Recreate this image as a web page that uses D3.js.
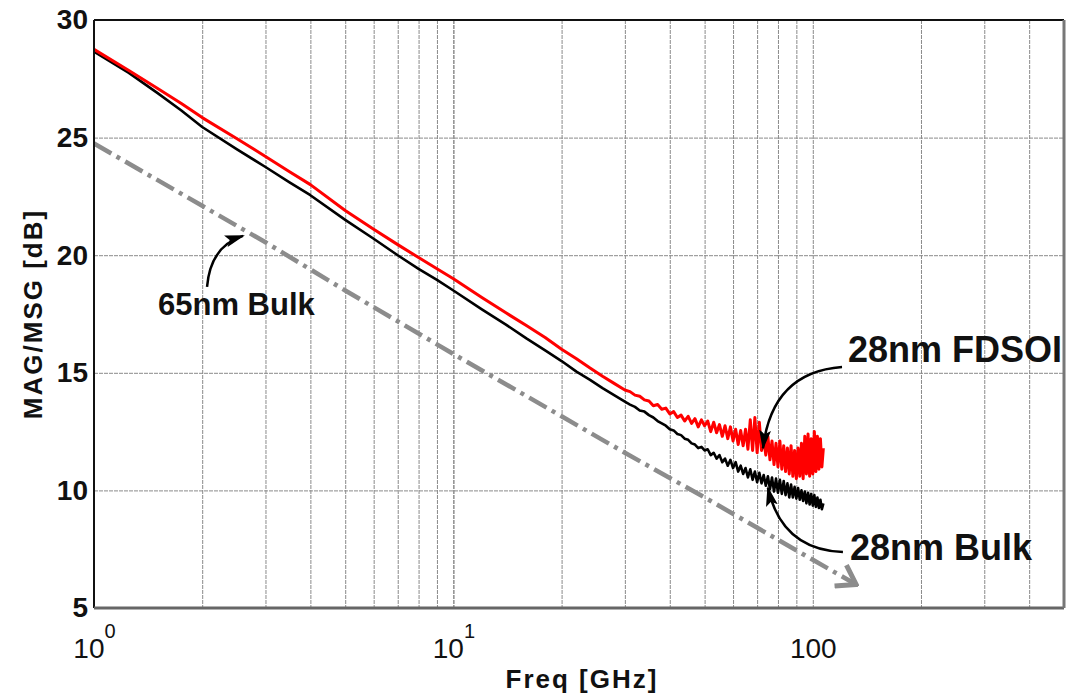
<!DOCTYPE html>
<html lang="en">
<head>
<meta charset="UTF-8">
<title>MAG/MSG vs Freq</title>
<script src="https://d3js.org/d3.v7.min.js"></script>
<style>
  body { margin: 0; background: #fff; font-family: "Liberation Sans", Arial, Helvetica, sans-serif; }
  .grid line { stroke: #8a8a8a; stroke-width: 1; stroke-dasharray: 4,1; }
  .grid line.major { stroke: #555; }
  .grid path { display: none; }
  .axis path, .axis line { display: none; }
  .ytick text { font-size: 28px; font-weight: bold; fill: #111; }
  .xtick text { font-size: 28px; fill: #111; }
  .axis-title { font-size: 26px; font-weight: bold; fill: #111; letter-spacing: 2px; }
  .note { font-weight: bold; fill: #111; }
  .note-arrow { fill: none; stroke: #000; stroke-width: 2.5; }
</style>
</head>
<body>
<svg id="chart" width="1068" height="699"></svg>
<script>
// ---- data ----
const yTicks = [5, 10, 15, 20, 25, 30];
const xTickVals = [1, 10, 100];
const xTickBase = ["10", "10", "100"];
const xTickExp = ["0", "1", ""];
const gridFreqs = [2, 3, 4, 5, 6, 7, 8, 9, 10, 20, 30, 40, 50, 60, 70, 80, 90, 100, 200, 300, 400];

// 28nm FDSOI (red)
const fdsoiFreq = [1, 1.25, 1.5, 1.75, 2, 2.5, 3, 3.5, 4, 5, 6, 7, 8, 9, 10, 12, 14, 16, 18, 20, 22, 24, 26, 28, 30,
  31, 32, 33, 34, 35, 36, 37, 38, 39, 40, 41, 42, 43, 44, 45, 46, 47, 48, 49, 50,
  51, 52, 53, 54, 55, 56, 57, 58, 59, 60, 61, 62, 63, 64, 65, 66, 67, 68, 69, 70,
  71, 72, 73, 74, 75, 76, 77, 78, 79, 80, 81, 82, 83, 84, 85, 86, 87, 88, 89, 90,
  91, 92, 93, 94, 95, 96, 97, 98, 99, 100, 101, 102, 103, 104, 105, 106, 107];
const fdsoiMag = [28.75, 27.85, 27.1, 26.45, 25.85, 24.95, 24.2, 23.55, 23.0, 21.9, 21.1, 20.45, 19.9, 19.42, 19.0,
  18.2, 17.55, 17.0, 16.5, 16.0, 15.6, 15.2, 14.85, 14.55, 14.27,
  14.2, 14.05, 14.0, 13.85, 13.8, 13.6, 13.65, 13.45, 13.5, 13.25, 13.35, 13.1, 13.2, 12.95, 13.15, 12.85, 13.05, 12.7, 13.0, 12.75,
  12.95, 12.5, 12.9, 12.45, 12.8, 12.3, 12.75, 12.2, 12.7, 12.1, 12.6, 11.95, 12.55, 11.9, 12.6, 11.75, 13.0, 11.7, 13.1, 11.6,
  12.9, 11.7, 12.2, 11.5, 12.3, 11.3, 12.1, 11.1, 12.0, 11.0, 12.1, 10.9, 11.9, 10.8, 11.8, 10.7, 11.9, 10.6, 11.7, 10.5,
  11.8, 10.6, 12.0, 10.5, 12.3, 10.7, 12.4, 10.6, 12.2, 10.7, 12.5, 10.8, 12.3, 10.9, 12.2, 11.0, 11.8];

// 28nm Bulk (black)
const bulk28Freq = fdsoiFreq;
const bulk28Mag = [28.65, 27.75, 26.9, 26.15, 25.45, 24.5, 23.75, 23.1, 22.55, 21.5, 20.7, 20.0, 19.42, 18.95, 18.5,
  17.7, 17.05, 16.45, 15.95, 15.5, 15.05, 14.7, 14.35, 14.05, 13.77,
  13.65, 13.55, 13.4, 13.35, 13.2, 13.1, 12.95, 12.85, 12.75, 12.6, 12.55, 12.4, 12.35, 12.2, 12.15, 12.0, 11.95, 11.8, 11.85, 11.7,
  11.75, 11.5, 11.6, 11.35, 11.5, 11.2, 11.35, 11.05, 11.3, 10.95, 11.2, 10.8, 11.05, 10.7, 10.95, 10.55, 10.9, 10.45, 10.8, 10.35,
  10.75, 10.3, 10.65, 10.2, 10.6, 10.05, 10.55, 9.95, 10.5, 9.9, 10.45, 9.85, 10.4, 9.8, 10.3, 9.7, 10.25, 9.7, 10.15, 9.65,
  10.1, 9.6, 10.0, 9.55, 9.95, 9.45, 9.9, 9.4, 9.85, 9.35, 9.8, 9.3, 9.7, 9.25, 9.6, 9.2, 9.45];

// 65nm Bulk (gray, dash-dot with arrow)
const bulk65Freq = [1, 2, 3, 5, 10, 20, 30, 50, 100, 132];
const bulk65Mag = [24.75, 22.1, 20.55, 18.5, 15.8, 13.15, 11.6, 9.7, 7.05, 6.0];

// annotations: label text, label anchor [freq, dB], arrow start / control / tip [freq, dB]
const notes = [
  { text: "65nm Bulk", size: 31, at: [1.507, 17.46], from: [2.063, 18.65], ctrl: [2.11, 20.39], to: [2.598, 20.82] },
  { text: "28nm FDSOI", size: 36, at: [125.3, 15.46], from: [120.6, 15.25], ctrl: [77.0, 15.03], to: [72.7, 11.8] },
  { text: "28nm Bulk", size: 36, at: [126.9, 7.04], from: [121.3, 7.38], ctrl: [82.1, 7.47], to: [75.0, 10.1] }
];

// ---- chart ----
const margin = { top: 20, right: 4, bottom: 91, left: 94 };
const svg = d3.select("#chart");
const W = +svg.attr("width") - margin.left - margin.right;
const H = +svg.attr("height") - margin.top - margin.bottom;
const g = svg.append("g").attr("transform", `translate(${margin.left},${margin.top})`);

const x = d3.scaleLog().domain([1, 500]).range([0, W]);
const y = d3.scaleLinear().domain([5, 30]).range([H, 0]);

const defs = svg.append("defs");
defs.append("marker")
  .attr("id", "headBlack")
  .attr("markerUnits", "userSpaceOnUse")
  .attr("viewBox", "0 0 20 12")
  .attr("refX", 18).attr("refY", 6)
  .attr("markerWidth", 20).attr("markerHeight", 12)
  .attr("orient", "auto")
  .append("path").attr("d", "M0,0 L20,6 L0,12 L4,6 Z").attr("fill", "#000");
defs.append("marker")
  .attr("id", "headGray")
  .attr("markerUnits", "userSpaceOnUse")
  .attr("viewBox", "0 0 24 28")
  .attr("refX", 21).attr("refY", 14)
  .attr("markerWidth", 24).attr("markerHeight", 28)
  .attr("orient", "auto")
  .append("path").attr("d", "M3,2 L21,14 L3,26")
  .attr("fill", "none").attr("stroke", "#8c8c8c").attr("stroke-width", 5);

// grid
g.append("g").attr("class", "grid")
  .call(d3.axisBottom(x).tickValues(gridFreqs).tickSize(H).tickFormat(""))
  .selectAll("line").classed("major", d => d === 10);
g.append("g").attr("class", "grid")
  .call(d3.axisLeft(y).tickValues([10, 15, 20, 25]).tickSize(-W).tickFormat(""));

// y axis labels
g.append("g").attr("class", "axis ytick")
  .call(d3.axisLeft(y).tickValues(yTicks).tickSize(0).tickPadding(6));

// x axis labels (10^0, 10^1, 100)
const xa = g.append("g").attr("class", "axis xtick")
  .attr("transform", `translate(0,${H})`)
  .call(d3.axisBottom(x).tickValues(xTickVals).tickSize(0).tickFormat(""));
xa.selectAll(".tick text").each(function(d, i) {
  const t = d3.select(this).attr("y", 50).attr("dy", 0).text(null);
  t.append("tspan").text(xTickBase[i]);
  if (xTickExp[i]) t.append("tspan").attr("dy", -20).attr("font-size", 20).text(xTickExp[i]);
});

// series
const line = d3.line().x(d => x(d[0])).y(d => y(d[1]));
const zip = (f, v) => f.map((d, i) => [d, v[i]]);

g.append("path")
  .datum(zip(bulk65Freq, bulk65Mag))
  .attr("d", line)
  .attr("fill", "none")
  .attr("stroke", "#8c8c8c")
  .attr("stroke-width", 4.5)
  .attr("stroke-dasharray", "20,6,4,6")
  .attr("marker-end", "url(#headGray)");

g.append("path")
  .datum(zip(bulk28Freq, bulk28Mag))
  .attr("d", line)
  .attr("fill", "none")
  .attr("stroke", "#000")
  .attr("stroke-width", 2.6)
  .attr("stroke-linejoin", "round");

g.append("path")
  .datum(zip(fdsoiFreq, fdsoiMag))
  .attr("d", line)
  .attr("fill", "none")
  .attr("stroke", "#ff0000")
  .attr("stroke-width", 3)
  .attr("stroke-linejoin", "round");

// frame
g.append("line").attr("x1", 0).attr("x2", W).attr("y1", 0).attr("y2", 0).attr("stroke", "#111").attr("stroke-width", 2);
g.append("line").attr("x1", 0).attr("x2", 0).attr("y1", 0).attr("y2", H).attr("stroke", "#111").attr("stroke-width", 2);
g.append("line").attr("x1", 0).attr("x2", W).attr("y1", H).attr("y2", H).attr("stroke", "#666").attr("stroke-width", 3);
g.append("line").attr("x1", W).attr("x2", W).attr("y1", 0).attr("y2", H).attr("stroke", "#777").attr("stroke-width", 3);

// annotations
notes.forEach(n => {
  const p0 = [x(n.from[0]), y(n.from[1])];
  const pc = [x(n.ctrl[0]), y(n.ctrl[1])];
  const p1 = [x(n.to[0]), y(n.to[1])];
  g.append("path")
    .attr("class", "note-arrow")
    .attr("d", `M${p0[0]},${p0[1]} Q${pc[0]},${pc[1]} ${p1[0]},${p1[1]}`)
    .attr("marker-end", "url(#headBlack)");
  g.append("text")
    .attr("class", "note")
    .attr("x", x(n.at[0]))
    .attr("y", y(n.at[1]))
    .attr("font-size", n.size)
    .text(n.text);
});

// axis titles
svg.append("text")
  .attr("class", "axis-title")
  .attr("text-anchor", "middle")
  .attr("x", 582).attr("y", 688)
  .text("Freq [GHz]");
svg.append("text")
  .attr("class", "axis-title")
  .attr("text-anchor", "middle")
  .attr("transform", "translate(42,314) rotate(-90)")
  .text("MAG/MSG [dB]");
</script>
</body>
</html>
